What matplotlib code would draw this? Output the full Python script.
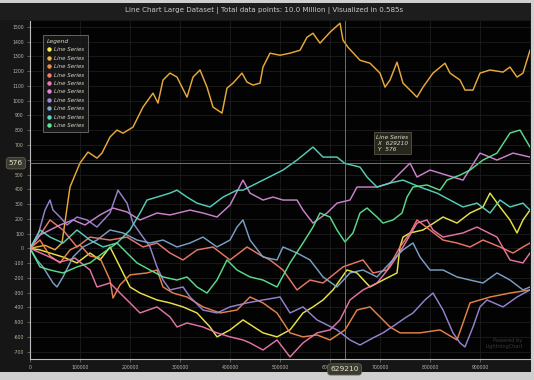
import numpy as np
import matplotlib.pyplot as plt
from matplotlib.lines import Line2D
from matplotlib.patches import Rectangle
import matplotlib.transforms as mtransforms

# ----------------------------------------------------------------------
# Data (x in thousands of samples, y = series value)
# ----------------------------------------------------------------------
yellow_x = [0, 20, 40, 66, 94, 120, 140, 160, 180, 200, 220, 254, 280, 306, 334, 360, 374, 400, 426, 466,
            494, 520, 546, 566, 586, 606, 634, 654, 680, 706, 734, 740, 746, 760, 786, 826, 854, 880, 906, 920,
            940, 960, 974, 986, 1000]
yellow_y = [0, -11, -32, -59, -99, -32, -79, 9, -126, -262, -303, -350, -370, -397, -438, -533, -600, -553, -485, -573,
            -600, -553, -438, -397, -350, -282, -147, -167, -262, -215, -167, 9, 76, 104, 124, 212, 171, 239, 280, 374,
            280, 192, 104, 192, 259]

gold_x = [0, 30, 50, 64, 80, 100, 116, 134, 144, 160, 174, 186, 206, 226, 246, 256, 266, 280, 294, 314,
          326, 340, 354, 366, 384, 394, 406, 424, 434, 446, 460, 466, 480, 500, 520, 540, 554, 566, 580, 600,
          620, 626, 636, 660, 680, 700, 710, 720, 734, 746, 760, 774, 786, 806, 830, 840, 860, 870, 886, 900,
          920, 946, 960, 974, 986, 1000]
gold_y = [0, 20, -10, 36, 415, 578, 652, 611, 645, 754, 801, 780, 821, 957, 1051, 984, 1140, 1187, 1160, 1024,
          1160, 1208, 1092, 957, 916, 1085, 1119, 1187, 1126, 1106, 1119, 1228, 1322, 1308, 1322, 1342, 1430, 1457, 1390, 1464,
          1525, 1410, 1362, 1274, 1254, 1187, 1092, 1140, 1261, 1119, 1072, 1024, 1092, 1187, 1254, 1187, 1140, 1072, 1072, 1187,
          1208, 1194, 1228, 1160, 1187, 1342]

orange_x = [0, 20, 40, 60, 80, 100, 120, 140, 160, 166, 180, 200, 234, 254, 266, 286, 314, 346, 380, 414,
            440, 466, 494, 520, 546, 574, 600, 630, 654, 680, 700, 720, 740, 780, 820, 854, 866, 880, 900, 920,
            960, 1000]
orange_y = [0, 56, -52, -99, -11, 22, -52, -66, -215, -337, -248, -180, -167, -147, -262, -303, -330, -397, -438, -418,
            -330, -370, -438, -573, -600, -587, -621, -553, -418, -397, -465, -533, -573, -573, -553, -621, -506, -370, -350, -330,
            -303, -282]

salmon_x = [0, 20, 40, 66, 94, 120, 160, 194, 226, 254, 280, 306, 334, 366, 400, 434, 460, 480, 506, 534,
            560, 586, 626, 666, 686, 714, 740, 760, 774, 800, 826, 854, 880, 906, 940, 966, 986, 1000]
salmon_y = [0, 90, 192, 124, 9, 76, 56, 76, 9, 36, -32, -79, -11, 9, -79, 9, -45, -79, -147, -282,
            -215, -235, -126, -79, -167, -147, 9, 104, 192, 124, 56, 36, 9, 56, 9, -32, 9, 36]

pink_x = [0, 30, 60, 90, 120, 134, 160, 180, 200, 220, 254, 280, 294, 314, 346, 374, 400, 426, 440, 466,
          494, 520, 546, 574, 600, 620, 640, 666, 694, 720, 746, 774, 794, 806, 826, 866, 894, 934, 960, 986,
          1000]
pink_y = [0, -45, -93, -66, -147, -262, -235, -303, -370, -438, -397, -465, -533, -506, -533, -573, -600, -621, -641, -689,
          -621, -736, -641, -573, -553, -485, -350, -282, -235, -126, 9, 171, 192, 124, 76, 104, 144, 76, -79, -99,
          -32]

orchid_x = [0, 20, 40, 60, 86, 110, 140, 166, 194, 220, 254, 280, 320, 346, 374, 400, 426, 440, 466, 486,
            506, 534, 546, 566, 594, 614, 640, 654, 694, 720, 760, 774, 800, 866, 900, 934, 966, 1000]
orchid_y = [0, 90, 124, 158, 192, 158, 226, 273, 246, 192, 239, 226, 259, 239, 212, 293, 462, 374, 327, 347,
            327, 327, 259, 171, 239, 306, 327, 415, 415, 442, 577, 483, 530, 462, 645, 598, 645, 618]

purple_x = [0, 16, 30, 40, 46, 60, 74, 94, 114, 134, 160, 176, 194, 206, 220, 240, 254, 266, 280, 306,
            320, 346, 374, 400, 434, 466, 500, 520, 546, 574, 614, 640, 660, 686, 706, 730, 750, 766, 790, 806,
            826, 846, 860, 870, 886, 900, 914, 946, 974, 1000]
purple_y = [0, 90, 259, 327, 259, 212, 158, 212, 192, 144, 239, 394, 306, 171, 104, 9, -126, -215, -282, -262,
            -330, -418, -438, -397, -370, -350, -330, -438, -397, -485, -553, -621, -655, -607, -573, -519, -472, -438, -350, -303,
            -418, -573, -641, -668, -533, -397, -350, -397, -330, -282]

blue_x = [0, 14, 26, 46, 54, 66, 86, 106, 134, 160, 186, 214, 240, 266, 294, 320, 346, 374, 400, 414,
          426, 440, 466, 494, 506, 534, 560, 586, 614, 640, 666, 694, 720, 746, 766, 780, 800, 826, 854, 880,
          906, 934, 960, 986, 1000]
blue_y = [0, -79, -126, -235, -262, -194, -59, 9, 56, 124, 104, 56, 36, 56, 9, 36, 76, 9, 56, 144,
          192, 56, -59, -79, 9, -32, -79, -194, -262, -167, -147, -194, -99, -11, 36, -59, -147, -147, -194, -215,
          -235, -167, -215, -282, -262]

teal_x = [0, 20, 40, 66, 94, 120, 146, 174, 200, 220, 234, 254, 280, 294, 314, 334, 360, 386, 414, 426,
          466, 506, 534, 566, 586, 614, 629.21, 660, 674, 694, 720, 746, 780, 814, 840, 866, 894, 920, 940, 960,
          986, 1000]
teal_y = [0, 124, 76, 36, 124, 56, 9, 36, 124, 239, 327, 347, 374, 394, 347, 306, 280, 347, 394, 394,
          462, 530, 598, 686, 618, 618, 576, 550, 483, 415, 442, 462, 415, 374, 327, 280, 306, 239, 327, 280,
          306, 259]

green_x = [0, 20, 40, 66, 94, 120, 146, 174, 194, 214, 240, 266, 294, 314, 334, 354, 374, 394, 414, 440,
           466, 494, 520, 546, 566, 580, 600, 614, 630, 646, 660, 674, 694, 706, 726, 744, 754, 766, 794, 820,
           834, 860, 880, 906, 934, 960, 980, 1000]
green_y = [0, -126, -147, -167, -126, -99, -32, 36, -32, -99, -147, -194, -215, -194, -262, -303, -215, -79, -147, -194,
           -215, -262, -99, 36, 144, 239, 212, 124, 43, 104, 239, 273, 212, 171, 192, 239, 347, 415, 429, 394,
           462, 496, 530, 598, 645, 781, 801, 686]

series = [
    (yellow_x, yellow_y, '#f5ee4c'),
    (gold_x, gold_y, '#f4b23e'),
    (orange_x, orange_y, '#f2894c'),
    (salmon_x, salmon_y, '#f47d6b'),
    (pink_x, pink_y, '#ef79ae'),
    (orchid_x, orchid_y, '#d68ad6'),
    (purple_x, purple_y, '#9d89d8'),
    (blue_x, blue_y, '#80a7cf'),
    (teal_x, teal_y, '#5dd7bf'),
    (green_x, green_y, '#5fe690'),
]

cursor_x = 629210
cursor_y = 576
title = 'Line Chart Large Dataset | Total data points: 10.0 Million | Visualized in 0.585s'

# ----------------------------------------------------------------------
# Figure
# ----------------------------------------------------------------------
W, H = 534, 380
fig = plt.figure(figsize=(W / 100, H / 100), dpi=100, facecolor='#cfcfcf')

# dark chart panel + title bar (behind everything)
fig.patches.append(Rectangle((0, 8 / H), 531 / W, 1 - 11 / H, transform=fig.transFigure,
                             facecolor='#161616', edgecolor='none', zorder=-10))
fig.patches.append(Rectangle((0, 1 - 20 / H), 531 / W, 17 / H, transform=fig.transFigure,
                             facecolor='#1d1d1d', edgecolor='none', zorder=-9))
fig.text(264 / W, 1 - 11 / H, title, color='#c9c9c9', fontsize=5.1, ha='center', va='center')

ax = fig.add_axes([30 / W, 1 - 359 / H, 500 / W, 338 / H])
ax.set_zorder(2)
ax.set_facecolor('#030303')

for xs, ys, c in series:
    ax.plot(np.array(xs) * 1000, ys, color=c, lw=1.05, alpha=0.95, solid_joinstyle='round')

ax.set_xlim(0, 1000000)
ax.set_ylim(-750, 1540)
yt = list(range(-700, 1501, 100))
ax.set_xticks(np.arange(0, 1000000, 100000))
ax.set_yticks(yt)
ax.set_xticklabels([str(v) for v in range(0, 1000000, 100000)])
# the 600 label sits under the cursor readout box
ax.set_yticklabels(['' if v == 600 else str(v) for v in yt])
ax.tick_params(colors='#7a7a7a', labelcolor='#b8b8a8', labelsize=3.3, length=2, width=0.5, pad=2.5)
ax.grid(True, color='#222222', lw=0.5)
ax.set_axisbelow(True)
for s in ['top', 'right']:
    ax.spines[s].set_visible(False)
for s in ['left', 'bottom']:
    ax.spines[s].set_color('#bdbdbd')
    ax.spines[s].set_linewidth(0.8)

# crosshair
ax.axvline(cursor_x, color='#8c8c8c', lw=0.7, alpha=0.8, zorder=5)
ax.axhline(cursor_y, color='#8c8c8c', lw=0.7, alpha=0.8, zorder=5)

box = dict(boxstyle='round,pad=0.35', facecolor='#3b3a2f', edgecolor='#6b6a58', lw=0.5)
ax.text(-0.014, cursor_y, str(cursor_y), transform=mtransforms.blended_transform_factory(ax.transAxes, ax.transData),
        ha='right', va='center', fontsize=5.4, color='#e4e2d2', bbox=box, clip_on=False, zorder=10)
ax.text(cursor_x, -0.022, str(cursor_x), transform=mtransforms.blended_transform_factory(ax.transData, ax.transAxes),
        ha='center', va='top', fontsize=5.4, color='#e4e2d2', bbox=box, clip_on=False, zorder=10)

tip = dict(boxstyle='square,pad=0.45', facecolor='#2b2a20', edgecolor='#6b6a58', lw=0.5, alpha=0.95)
ax.text(693000, 770, 'Line Series\n X  629210\n Y  576', ha='left', va='top', fontsize=4.2,
        style='italic', color='#dcdacb', bbox=tip, linespacing=1.25, zorder=10)

# watermark
ax.text(0.985, 0.03, 'Powered by\nLightningChart', transform=ax.transAxes, ha='right', va='bottom',
        fontsize=3.6, color='#3a3a3a', linespacing=1.1)

# legend
handles = [Line2D([], [], ls='none', marker='o', ms=3.2, color=c, markeredgewidth=0) for _, _, c in series]
leg = ax.legend(handles, ['Line Series'] * len(series), title='Legend', loc='upper left',
                bbox_to_anchor=(0.02, 0.968), fontsize=4.0, title_fontsize=4.3, frameon=True,
                facecolor='#1b1b1b', edgecolor='#7a7a7a', labelcolor='#d8d6c4', handletextpad=0.4,
                handlelength=0.8, labelspacing=0.62, borderpad=0.75, fancybox=False)
leg.get_frame().set_linewidth(0.7)
leg.get_title().set_color('#d8d6c4')
leg.get_title().set_style('italic')
leg._legend_box.align = 'left'
for t in leg.get_texts():
    t.set_style('italic')

fig.savefig('out.png', dpi=100, facecolor=fig.get_facecolor())
